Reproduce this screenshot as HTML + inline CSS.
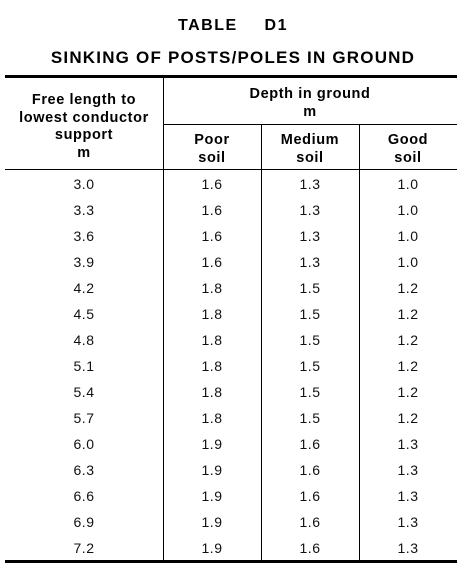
<!DOCTYPE html>
<html><head><meta charset="utf-8"><style>
body{margin:0;width:466px;height:577px;background:#fff;position:relative;font-family:"Liberation Sans",Arial,sans-serif;color:#000;overflow:hidden}
.t{position:absolute;text-align:center;white-space:nowrap}
.h{font-weight:bold;font-size:14.5px;line-height:17.7px;letter-spacing:0.6px}
.l{position:absolute;background:#000}
.c{position:absolute;text-align:center;font-size:14px;line-height:16px;letter-spacing:0.5px;color:#111}
</style></head><body>
<div class="t" style="left:0;width:466px;top:17px;font-weight:bold;font-size:16px;letter-spacing:1.5px;word-spacing:3px">TABLE &nbsp; D1</div>
<div class="t" style="left:0;width:466px;top:48px;font-weight:bold;font-size:17px;letter-spacing:1.2px">SINKING OF POSTS/POLES IN GROUND</div>
<div class="l" style="left:5px;width:452px;top:75px;height:3px"></div>
<div class="l" style="left:163px;width:294px;top:124px;height:1px"></div>
<div class="l" style="left:5px;width:452px;top:169px;height:1px"></div>
<div class="l" style="left:5px;width:452px;top:560px;height:3px"></div>
<div class="l" style="left:163px;width:1px;top:78px;height:482px"></div>
<div class="l" style="left:261px;width:1px;top:124px;height:436px"></div>
<div class="l" style="left:359px;width:1px;top:124px;height:436px"></div>
<div class="t h" style="left:5px;width:158px;top:92px">Free length to<br>lowest conductor<br>support<br>m</div>
<div class="t h" style="left:163px;width:294px;top:86px">Depth in ground<br>m</div>
<div class="t h" style="left:163px;width:98px;top:132px">Poor<br>soil</div>
<div class="t h" style="left:261px;width:98px;top:132px">Medium<br>soil</div>
<div class="t h" style="left:359px;width:98px;top:132px">Good<br>soil</div>
<div id="body"></div>
<script>
const freeLength=["3.0","3.3","3.6","3.9","4.2","4.5","4.8","5.1","5.4","5.7","6.0","6.3","6.6","6.9","7.2"];
const poorSoil=["1.6","1.6","1.6","1.6","1.8","1.8","1.8","1.8","1.8","1.8","1.9","1.9","1.9","1.9","1.9"];
const mediumSoil=["1.3","1.3","1.3","1.3","1.5","1.5","1.5","1.5","1.5","1.5","1.6","1.6","1.6","1.6","1.6"];
const goodSoil=["1.0","1.0","1.0","1.0","1.2","1.2","1.2","1.2","1.2","1.2","1.3","1.3","1.3","1.3","1.3"];
const cols=[[5,158,freeLength,'free-length'],[163,98,poorSoil,'poor-soil'],[261,98,mediumSoil,'medium-soil'],[359,98,goodSoil,'good-soil']];
const b=document.getElementById('body');
freeLength.forEach((_,i)=>{
  cols.forEach(c=>{
    const d=document.createElement('div');
    d.className='c';
    d.style.left=c[0]+'px';d.style.width=c[1]+'px';
    d.style.top=(176+i*26)+'px';
    d.textContent=c[2][i];
    
    
    b.appendChild(d);
  });
});
</script>
</body></html>
